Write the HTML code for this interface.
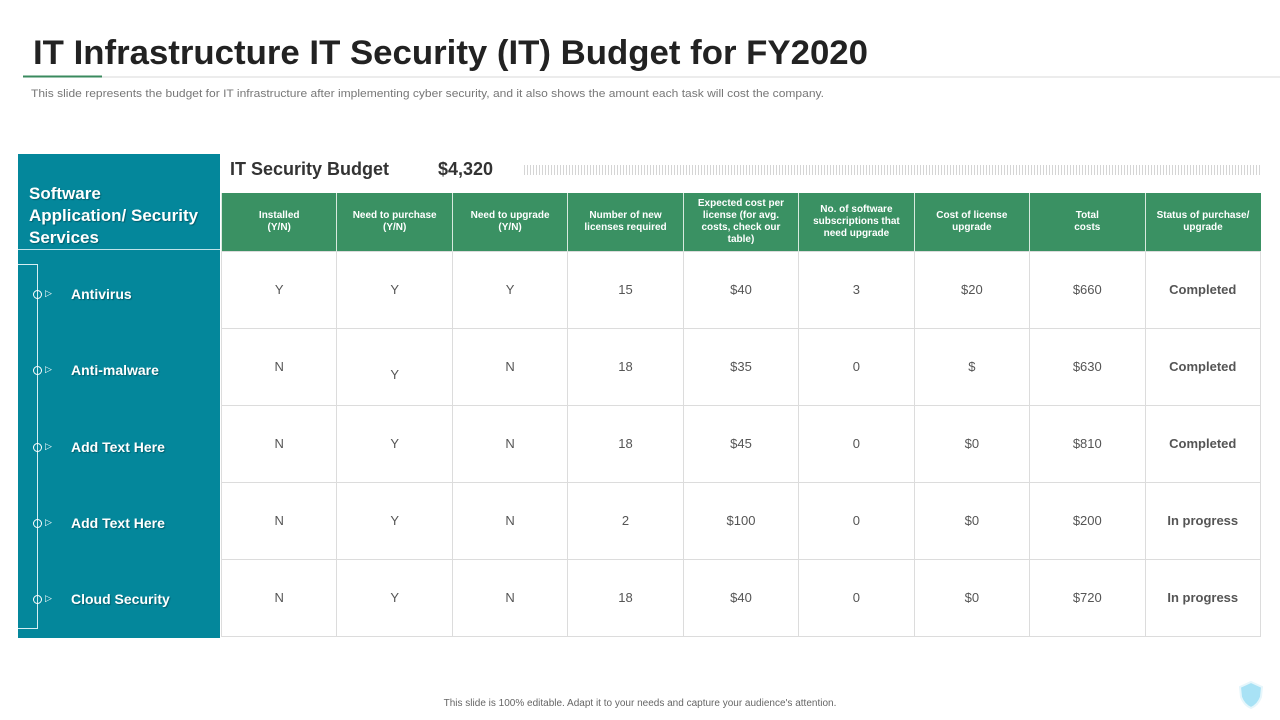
<!DOCTYPE html>
<html><head><meta charset="utf-8"><style>
body{margin:0;width:1280px;height:720px;background:#fff;overflow:hidden;position:relative;font-family:"Liberation Sans",sans-serif;}
.abs{position:absolute;}
table{border-collapse:collapse;position:absolute;left:221px;top:193px;width:1040px;table-layout:fixed;}
th{background:#3a9163;color:#fff;font-size:10px;font-weight:bold;height:58px;padding:0 6px;border-left:1px solid #d7e9de;line-height:12px;}
tr.r{height:77px;}
td{height:76px;padding:0;border:1px solid #dcdcdc;text-align:center;font-size:13px;color:#555;line-height:14px;}
td.s{font-weight:bold;color:#555;}
.item{position:absolute;left:71px;color:#fff;font-weight:bold;font-size:14px;text-shadow:1px 1px 1px rgba(0,0,0,.3);}
.dot{position:absolute;left:33px;width:9px;height:9px;border:1px solid #fff;border-radius:50%;box-sizing:border-box;}
.tri{position:absolute;left:45px;color:#fff;font-size:9px;}
</style></head><body>
<svg class="abs" style="left:0;top:0" width="1280" height="110">
<text x="33" y="64" font-family="Liberation Sans" font-weight="bold" font-size="34" fill="#222" textLength="835" lengthAdjust="spacingAndGlyphs">IT Infrastructure IT Security (IT) Budget for FY2020</text>
<line x1="102" y1="77" x2="1280" y2="77" stroke="#d8d8d8" stroke-width="1"/>
<line x1="23" y1="76.5" x2="102" y2="76.5" stroke="#3a8a5e" stroke-width="2"/>
<text x="31" y="97" font-family="Liberation Sans" font-size="11" fill="#777" textLength="793" lengthAdjust="spacingAndGlyphs">This slide represents the budget for IT infrastructure after implementing cyber security, and it also shows the amount each task will cost the company.</text>
</svg>
<div class="abs" style="left:18px;top:154px;width:202px;height:484px;background:#04879b;"></div>
<div class="abs" style="left:29px;top:183px;color:#fff;font-weight:bold;font-size:17px;line-height:22px;text-shadow:1px 1px 1px rgba(0,0,0,.3);">Software<br>Application/ Security<br>Services</div>
<div class="abs" style="left:18px;top:249px;width:202px;height:1px;background:#bfe3ea"></div>
<div class="abs" style="left:18px;top:264px;width:20px;height:365px;border:1px solid #d6eef2;border-left:none;box-sizing:border-box;"></div>
<div class="dot" style="top:290px"></div><div class="tri" style="top:288px">▷</div><div class="item" style="top:286px">Antivirus</div>
<div class="dot" style="top:366px"></div><div class="tri" style="top:364px">▷</div><div class="item" style="top:362px">Anti-malware</div>
<div class="dot" style="top:443px"></div><div class="tri" style="top:441px">▷</div><div class="item" style="top:439px">Add Text Here</div>
<div class="dot" style="top:519px"></div><div class="tri" style="top:517px">▷</div><div class="item" style="top:515px">Add Text Here</div>
<div class="dot" style="top:595px"></div><div class="tri" style="top:593px">▷</div><div class="item" style="top:591px">Cloud Security</div>
<div class="abs" style="left:230px;top:159px;font-size:18px;font-weight:bold;color:#333;">IT Security Budget</div>
<div class="abs" style="left:438px;top:159px;font-size:18px;font-weight:bold;color:#333;">$4,320</div>
<div class="abs" style="left:524px;top:165px;width:736px;height:10px;background:repeating-linear-gradient(90deg,#d5d5d5 0 1px,transparent 1px 3px);"></div>
<table>
<tr><th>Installed<br>(Y/N)</th><th>Need to purchase<br>(Y/N)</th><th>Need to upgrade<br>(Y/N)</th><th>Number of new licenses required</th><th>Expected cost per license (for avg. costs, check our table)</th><th>No. of software subscriptions that need upgrade</th><th>Cost of license upgrade</th><th>Total<br>costs</th><th>Status of purchase/ upgrade</th></tr>
<tr class="r"><td>Y</td><td>Y</td><td>Y</td><td>15</td><td>$40</td><td>3</td><td>$20</td><td>$660</td><td class="s">Completed</td></tr>
<tr class="r"><td>N</td><td><span style="position:relative;top:8px">Y</span></td><td>N</td><td>18</td><td>$35</td><td>0</td><td>$</td><td>$630</td><td class="s">Completed</td></tr>
<tr class="r"><td>N</td><td>Y</td><td>N</td><td>18</td><td>$45</td><td>0</td><td>$0</td><td>$810</td><td class="s">Completed</td></tr>
<tr class="r"><td>N</td><td>Y</td><td>N</td><td>2</td><td>$100</td><td>0</td><td>$0</td><td>$200</td><td class="s">In progress</td></tr>
<tr class="r"><td>N</td><td>Y</td><td>N</td><td>18</td><td>$40</td><td>0</td><td>$0</td><td>$720</td><td class="s">In progress</td></tr>
</table>
<div class="abs" style="left:0;width:1280px;top:698px;text-align:center;font-size:10px;color:#666;">This slide is 100% editable. Adapt it to your needs and capture your audience's attention.</div>
<svg class="abs" style="left:1237px;top:680px" width="28" height="30"><path d="M14 2 L25 7 L24 17 Q21 25 14 28 Q7 25 4 17 L3 7 Z" fill="#a8e2f5" stroke="#e6f6fb" stroke-width="2"/></svg>
</body></html>
